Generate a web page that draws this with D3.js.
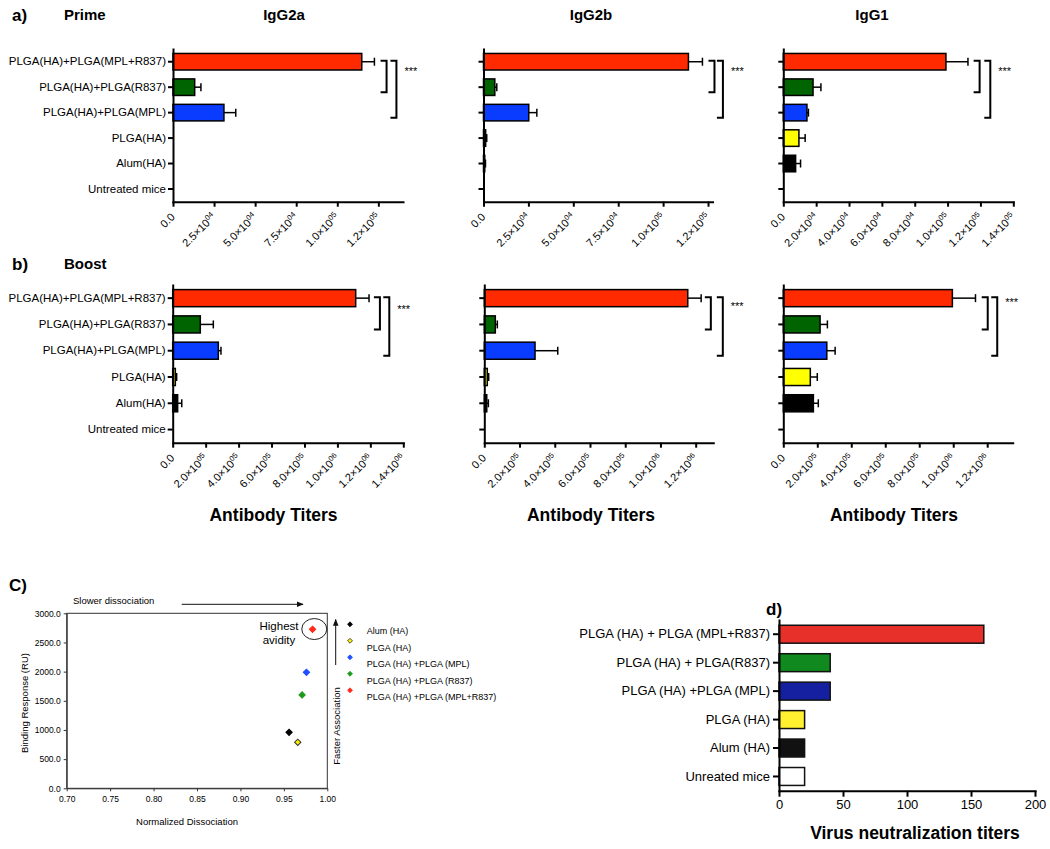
<!DOCTYPE html>
<html><head><meta charset="utf-8">
<script src="https://cdn.jsdelivr.net/npm/d3@7"></script>
<style>body{margin:0;background:#fff} svg{display:block} text{font-family:Arial,"Liberation Sans",sans-serif;fill:#000}</style>
</head><body>
<svg id="chart" width="1050" height="849"></svg>
<script>
// ---------- DATA ----------
const groups = ["PLGA(HA)+PLGA(MPL+R837)", "PLGA(HA)+PLGA(R837)", "PLGA(HA)+PLGA(MPL)", "PLGA(HA)", "Alum(HA)", "Untreated mice"];
const barColors = ["#ff2a00", "#006400", "#0a3cff", "#ffff00", "#000000", "#ffffff"];

const primeIgG2a = [114900, 13200, 31000, 0, 0, 0];
const primeIgG2aErr = [7700, 3800, 7200, 0, 0, 0];
const primeIgG2b = [114100, 6300, 25200, 1200, 700, 0];
const primeIgG2bErr = [7800, 1100, 4500, 600, 400, 0];
const primeIgG1 = [99000, 18100, 14400, 9500, 7500, 0];
const primeIgG1Err = [13400, 4800, 900, 3800, 3000, 0];

const boostIgG2a = [1111000, 167600, 277000, 16000, 30000, 0];
const boostIgG2aErr = [81000, 79000, 16000, 8000, 25000, 0];
const boostIgG2b = [1155000, 62500, 288000, 17000, 14000, 0];
const boostIgG2bErr = [76000, 11500, 129000, 8000, 9000, 0];
const boostIgG1 = [995000, 216500, 256000, 159000, 177000, 0];
const boostIgG1Err = [136000, 43000, 49000, 41000, 29000, 0];

const primeTicks25 = [0, 25000, 50000, 75000, 100000, 125000];
const primeTicks25Labels = ["0.0", "2.5×10^04", "5.0×10^04", "7.5×10^04", "1.0×10^05", "1.2×10^05"];
const primeTicks20 = [0, 20000, 40000, 60000, 80000, 100000, 120000, 140000];
const primeTicks20Labels = ["0.0", "2.0×10^04", "4.0×10^04", "6.0×10^04", "8.0×10^04", "1.0×10^05", "1.2×10^05", "1.4×10^05"];
const boostTicks = [0, 200000, 400000, 600000, 800000, 1000000, 1200000, 1400000];
const boostTickLabels = ["0.0", "2.0×10^05", "4.0×10^05", "6.0×10^05", "8.0×10^05", "1.0×10^06", "1.2×10^06", "1.4×10^06"];

const scatterLabels = ["Alum  (HA)", "PLGA (HA)", "PLGA (HA) +PLGA (MPL)", "PLGA (HA) +PLGA (R837)", "PLGA (HA) +PLGA (MPL+R837)"];
const scatterX = [0.956, 0.966, 0.976, 0.971, 0.983];
const scatterY = [960, 789, 1989, 1600, 2726];
const scatterColors = ["#000000", "#ffee00", "#1f4fff", "#1f9a1f", "#ff2a1a"];
const scatterXTicks = [0.70, 0.75, 0.80, 0.85, 0.90, 0.95, 1.00];
const scatterYTicks = [0, 500, 1000, 1500, 2000, 2500, 3000];

const vnGroups = ["PLGA (HA) + PLGA (MPL+R837)", "PLGA (HA) + PLGA(R837)", "PLGA (HA) +PLGA (MPL)", "PLGA (HA)", "Alum (HA)", "Unreated mice"];
const vnValues = [160, 40, 40, 20, 20, 20];
const vnColors = ["#e8302a", "#108a1e", "#1420a0", "#fff030", "#111111", "#ffffff"];
const vnTicks = [0, 50, 100, 150, 200];

// ---------- DRAW ----------
const svg = d3.select("#chart");

function styleAxis(ax, w) {
  ax.selectAll("path.domain").attr("stroke", "#000").attr("stroke-width", w).attr("stroke-linecap", "square");
  ax.selectAll(".tick line").attr("stroke", "#000").attr("stroke-width", w);
}

function barPanel(cfg) {
  const g = svg.append("g");
  const x = d3.scaleLinear().domain([0, cfg.max]).range(cfg.xr);
  const y = d3.scaleBand().domain(groups).range(cfg.yr).paddingInner(0.35).paddingOuter(0.175);
  const data = groups.map((k, i) => ({k, v: cfg.values[i], e: cfg.errors[i], c: barColors[i]}));

  g.selectAll("rect.bar").data(data.filter(d => d.v > 0)).join("rect")
    .attr("x", x(0)).attr("y", d => y(d.k))
    .attr("width", d => x(d.v) - x(0)).attr("height", y.bandwidth())
    .attr("fill", d => d.c).attr("stroke", "#000").attr("stroke-width", 1.5);

  const eb = data.filter(d => d.e > 0);
  g.selectAll("line.err").data(eb).join("line")
    .attr("x1", d => x(d.v)).attr("x2", d => x(d.v + d.e))
    .attr("y1", d => y(d.k) + y.bandwidth() / 2).attr("y2", d => y(d.k) + y.bandwidth() / 2)
    .attr("stroke", "#000").attr("stroke-width", 1.5);
  g.selectAll("line.cap").data(eb).join("line")
    .attr("x1", d => x(d.v + d.e)).attr("x2", d => x(d.v + d.e))
    .attr("y1", d => y(d.k) + y.bandwidth() / 2 - 4).attr("y2", d => y(d.k) + y.bandwidth() / 2 + 4)
    .attr("stroke", "#000").attr("stroke-width", 1.5);

  const ay = g.append("g").attr("transform", `translate(${cfg.xr[0]},0)`)
    .call(d3.axisLeft(y).tickSize(5).tickSizeOuter(0).tickPadding(2).tickFormat(cfg.showLabels ? (d => d) : ""));
  styleAxis(ay, 2);
  ay.selectAll("text").attr("font-size", "11.5px").attr("font-family", 'Arial,"Liberation Sans",sans-serif').attr("fill", "#000");

  const ax = g.append("g").attr("transform", `translate(0,${cfg.yr[1]})`)
    .call(d3.axisBottom(x).tickValues(cfg.ticks).tickSize(5).tickSizeOuter(0).tickFormat(""));
  styleAxis(ax, 2);

  cfg.ticks.forEach((t, i) => {
    const lab = cfg.tickLabels[i].split("^");
    const tx = g.append("text")
      .attr("transform", `translate(${x(t) + 2.5},${cfg.yr[1] + 16}) rotate(-45)`)
      .attr("text-anchor", "end").attr("font-size", "11px").text(lab[0]);
    if (lab[1]) tx.append("tspan").attr("font-size", "7.5px").attr("dy", "-4").text(lab[1]);
  });

  // significance brackets
  const top = y(groups[0]) + y.bandwidth() / 2 - 1;
  cfg.brackets.forEach(b => {
    const bx = x(b.at);
    const bottom = y(groups[b.to]) + y.bandwidth() / 2 + 5;
    g.append("path").attr("d", `M${bx - 6},${top}H${bx}V${bottom}H${bx - 6}`)
      .attr("fill", "none").attr("stroke", "#000").attr("stroke-width", 2);
  });
  const last = cfg.brackets[cfg.brackets.length - 1];
  g.append("text").attr("x", x(last.at) + 8).attr("y", top + cfg.starDy)
    .attr("font-size", "11px").text("***");
}

// Row a (Prime)
barPanel({values: primeIgG2a, errors: primeIgG2aErr, max: 140000, xr: [173, 403], yr: [49, 201.7],
  ticks: primeTicks25, tickLabels: primeTicks25Labels, showLabels: true,
  brackets: [{at: 130000, to: 1}, {at: 136000, to: 2}], starDy: 14});
barPanel({values: primeIgG2b, errors: primeIgG2bErr, max: 127500, xr: [483.5, 712.5], yr: [49, 201.7],
  ticks: primeTicks25, tickLabels: primeTicks25Labels, showLabels: false,
  brackets: [{at: 128600, to: 1}, {at: 133300, to: 2}], starDy: 14});
barPanel({values: primeIgG1, errors: primeIgG1Err, max: 140000, xr: [783.3, 1013.3], yr: [49, 201.7],
  ticks: primeTicks20, tickLabels: primeTicks20Labels, showLabels: false,
  brackets: [{at: 119500, to: 1}, {at: 126000, to: 2}], starDy: 14});

// Row b (Boost)
barPanel({values: boostIgG2a, errors: boostIgG2aErr, max: 1400000, xr: [172.7, 403.3], yr: [285, 442.7],
  ticks: boostTicks, tickLabels: boostTickLabels, showLabels: true,
  brackets: [{at: 1258000, to: 1}, {at: 1315000, to: 2}], starDy: 16});
barPanel({values: boostIgG2b, errors: boostIgG2bErr, max: 1300000, xr: [484.3, 713.3], yr: [285, 442.7],
  ticks: boostTicks.slice(0, 7), tickLabels: boostTickLabels.slice(0, 7), showLabels: false,
  brackets: [{at: 1286000, to: 1}, {at: 1354000, to: 2}], starDy: 13});
barPanel({values: boostIgG1, errors: boostIgG1Err, max: 1350000, xr: [783.3, 1012.7], yr: [285, 442.7],
  ticks: boostTicks.slice(0, 7), tickLabels: boostTickLabels.slice(0, 7), showLabels: false,
  brackets: [{at: 1203000, to: 1}, {at: 1259000, to: 2}], starDy: 9});

// Titles for rows a, b
const bold = (x, y, s, t, anchor) => svg.append("text").attr("x", x).attr("y", y).attr("font-size", s + "px")
  .attr("font-weight", "bold").attr("text-anchor", anchor || "start").text(t);
bold(12, 21, 17, "a)");
bold(64, 19.5, 15, "Prime");
bold(284, 19.5, 15, "IgG2a", "middle");
bold(591, 19.5, 15, "IgG2b", "middle");
bold(872, 19.5, 15, "IgG1", "middle");
bold(12, 270, 17, "b)");
bold(64, 269, 15, "Boost");
bold(273.5, 521, 17.5, "Antibody Titers", "middle");
bold(591, 521, 17.5, "Antibody Titers", "middle");
bold(894, 521, 17.5, "Antibody Titers", "middle");

// ---------- Panel C (scatter) ----------
(function () {
  const g = svg.append("g");
  const x = d3.scaleLinear().domain([0.7, 1.0]).range([66.7, 327.3]);
  const y = d3.scaleLinear().domain([0, 3000]).range([788.3, 613.3]);
  g.append("rect").attr("x", x(0.7)).attr("y", y(3000)).attr("width", x(1) - x(0.7)).attr("height", y(0) - y(3000))
    .attr("fill", "none").attr("stroke", "#333").attr("stroke-width", 1);
  const ax = g.append("g").attr("transform", `translate(0,${y(0)})`)
    .call(d3.axisBottom(x).tickValues(scatterXTicks).tickSize(3).tickSizeOuter(0).tickFormat(d3.format(".2f")));
  const ay = g.append("g").attr("transform", `translate(${x(0.7)},0)`)
    .call(d3.axisLeft(y).tickValues(scatterYTicks).tickSize(3).tickSizeOuter(0).tickFormat(d3.format(".1f")));
  [ax, ay].forEach(a => {
    a.selectAll("path.domain").attr("stroke", "#333");
    a.selectAll(".tick line").attr("stroke", "#333");
    a.selectAll("text").attr("font-size", "8.5px").attr("fill", "#222").attr("font-family", 'Arial,"Liberation Sans",sans-serif');
  });
  ax.selectAll("text").attr("dy", "0.9em");

  g.append("text").attr("transform", `translate(28,703) rotate(-90)`).attr("text-anchor", "middle")
    .attr("font-size", "9.5px").attr("fill", "#222").text("Binding Response (RU)");
  g.append("text").attr("x", 187).attr("y", 825).attr("text-anchor", "middle")
    .attr("font-size", "9.5px").attr("fill", "#222").text("Normalized Dissociation");
  g.append("text").attr("x", 73).attr("y", 603.5).attr("font-size", "9.5px").attr("fill", "#222").text("Slower dissociation");
  g.append("text").attr("transform", `translate(340,726) rotate(-90)`).attr("text-anchor", "middle")
    .attr("font-size", "9.5px").attr("fill", "#222").text("Faster Association");

  const defs = svg.append("defs");
  defs.append("marker").attr("id", "arr").attr("viewBox", "0 0 10 10").attr("refX", 9).attr("refY", 5)
    .attr("markerWidth", 7).attr("markerHeight", 7).attr("orient", "auto")
    .append("path").attr("d", "M0,1L10,5L0,9Z").attr("fill", "#111");
  g.append("line").attr("x1", 181.7).attr("x2", 303).attr("y1", 604.3).attr("y2", 604.3)
    .attr("stroke", "#111").attr("stroke-width", 1).attr("marker-end", "url(#arr)");
  g.append("line").attr("x1", 335.7).attr("x2", 335.7).attr("y1", 665).attr("y2", 619.5)
    .attr("stroke", "#111").attr("stroke-width", 1).attr("marker-end", "url(#arr)");

  g.append("ellipse").attr("cx", x(0.985)).attr("cy", y(2730)).attr("rx", 12.5).attr("ry", 10.5)
    .attr("fill", "none").attr("stroke", "#222").attr("stroke-width", 1);
  g.append("text").attr("x", 279).attr("y", 630).attr("text-anchor", "middle").attr("font-size", "11.5px").attr("fill", "#222").text("Highest");
  g.append("text").attr("x", 279).attr("y", 644).attr("text-anchor", "middle").attr("font-size", "11.5px").attr("fill", "#222").text("avidity");

  const sym = d3.symbol().type(d3.symbolSquare);
  const pts = scatterX.map((v, i) => ({x: v, y: scatterY[i], c: scatterColors[i]}));
  g.selectAll("path.pt").data(pts).join("path")
    .attr("transform", d => `translate(${x(d.x)},${y(d.y)}) rotate(45)`)
    .attr("d", sym.size(20)())
    .attr("fill", d => d.c).attr("stroke", d => d.c === "#ffee00" ? "#333" : d.c).attr("stroke-width", 1);

  scatterLabels.forEach((l, i) => {
    const ly = 624.3 + i * 16.5;
    g.append("path").attr("transform", `translate(350,${ly}) rotate(45)`).attr("d", sym.size(12)())
      .attr("fill", scatterColors[i]).attr("stroke", i === 1 ? "#333" : scatterColors[i]).attr("stroke-width", 0.8);
    g.append("text").attr("x", 366.7).attr("y", ly + 10).attr("font-size", "9px").attr("fill", "#222").text(l);
  });
  bold(9, 591, 17, "C)");
})();

// ---------- Panel d ----------
(function () {
  const g = svg.append("g");
  const x = d3.scaleLinear().domain([0, 200]).range([779, 1035]);
  const y = d3.scaleBand().domain(vnGroups).range([620, 790.7]).paddingInner(0.37).paddingOuter(0.185);
  g.selectAll("rect").data(vnGroups.map((k, i) => ({k, v: vnValues[i], c: vnColors[i]}))).join("rect")
    .attr("x", x(0)).attr("y", d => y(d.k)).attr("width", d => x(d.v) - x(0)).attr("height", y.bandwidth())
    .attr("fill", d => d.c).attr("stroke", "#111").attr("stroke-width", 1.5);
  const ay = g.append("g").attr("transform", `translate(${x(0)},0)`)
    .call(d3.axisLeft(y).tickSize(6).tickSizeOuter(0).tickPadding(3));
  const ax = g.append("g").attr("transform", `translate(0,${y.range()[1]})`)
    .call(d3.axisBottom(x).tickValues(vnTicks).tickSize(6).tickSizeOuter(0).tickPadding(3));
  [ax, ay].forEach(a => {
    styleAxis(a, 2);
    a.selectAll("text").attr("font-size", "13px").attr("fill", "#111").attr("font-family", 'Arial,"Liberation Sans",sans-serif');
  });
  bold(915, 839, 17.5, "Virus neutralization titers", "middle");
  bold(766, 615, 17, "d)");
})();
</script>
</body></html>
